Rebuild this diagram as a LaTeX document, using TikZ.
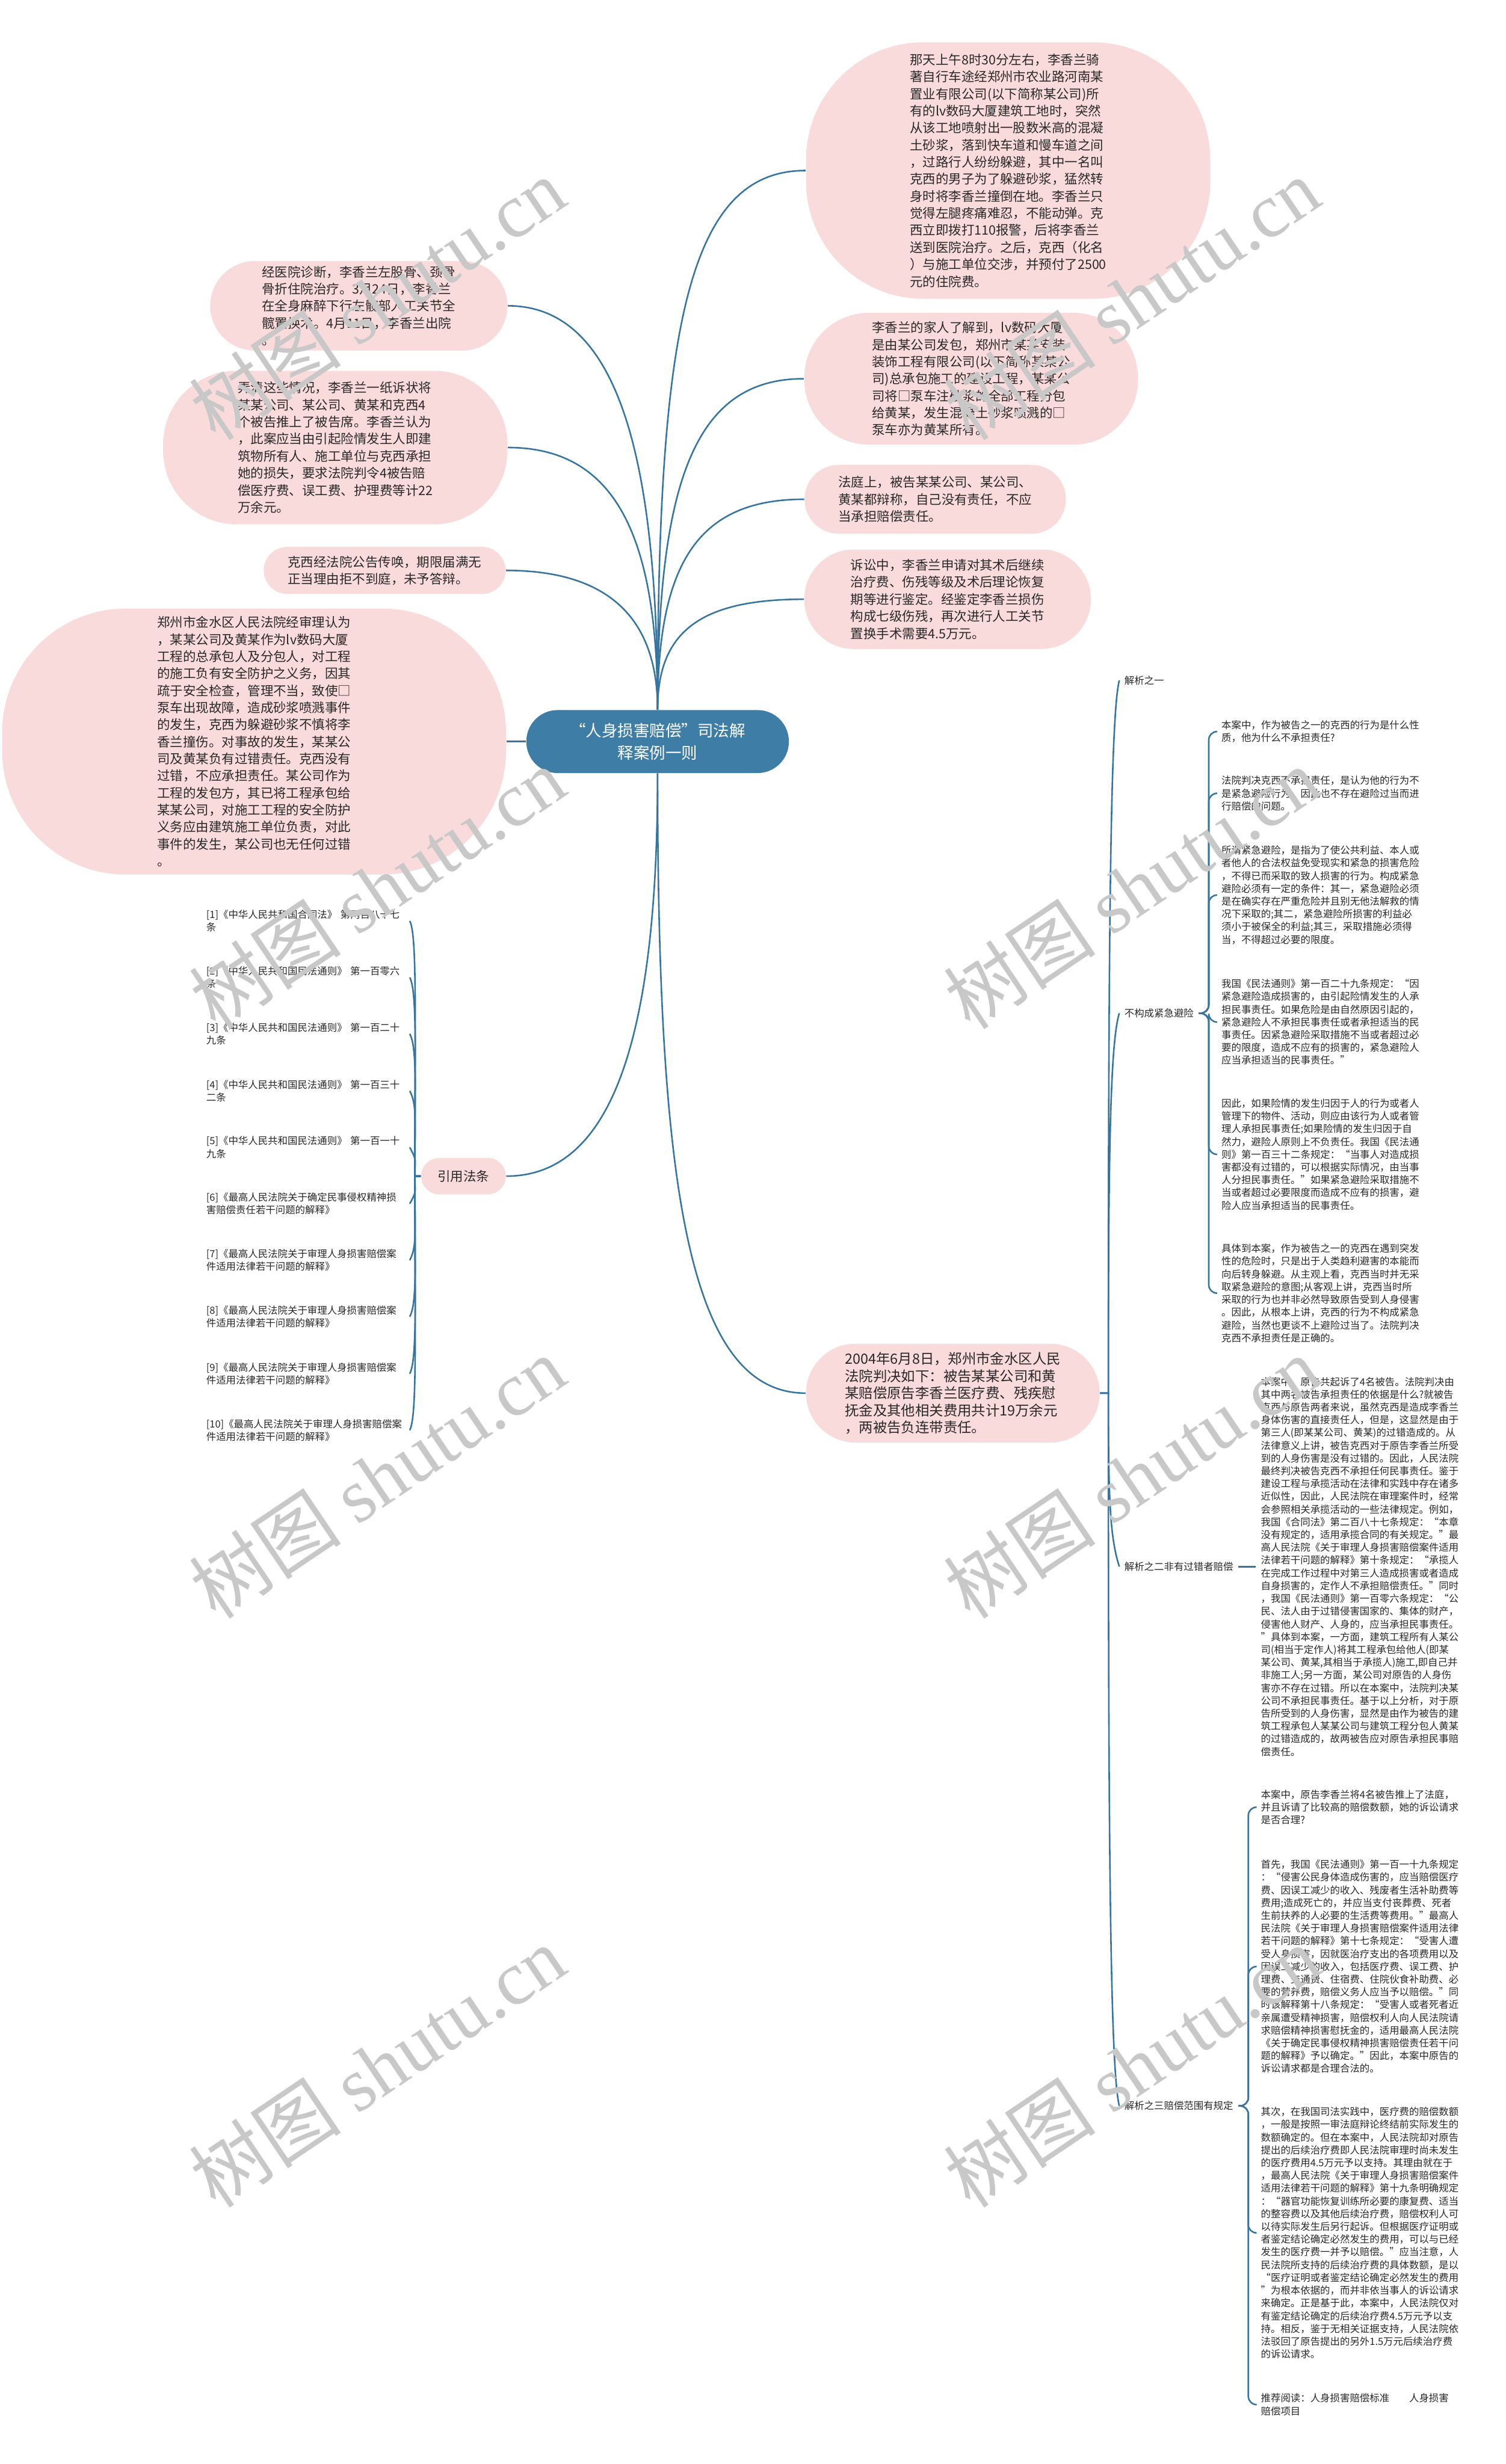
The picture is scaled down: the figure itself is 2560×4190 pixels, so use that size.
\documentclass[tikz,border=0pt]{standalone}
\usepackage{fontspec}
\setmainfont{Noto Sans CJK SC}
\newfontfamily\wmserif{Liberation Serif}
\definecolor{pinkbub}{RGB}{250,219,219}
\definecolor{rootblue}{RGB}{62,125,165}
\definecolor{linkblue}{RGB}{54,117,160}
\definecolor{inkgray}{RGB}{40,40,40}
\definecolor{wmgray}{RGB}{200,200,200}
\newcommand\bubfont{\fontsize{6.24pt}{8.25pt}\selectfont}
\newcommand\leaffont{\fontsize{4.78pt}{6.17pt}\selectfont}
\newcommand\rootfont{\fontsize{7.7pt}{10.8pt}\selectfont}
\newcommand\judgefont{\fontsize{6.8pt}{8.3pt}\selectfont}
\newcommand\wmfont{\fontsize{37pt}{40pt}\selectfont}

\begin{document}
\begin{tikzpicture}[x=0.01cm,y=-0.01cm,
  link/.style={draw=linkblue,line width=0.75pt},
  bracket/.style={link,rounded corners=4pt},
  bubble/.style={fill=pinkbub,text=inkgray,align=left,inner sep=0pt,font=\bubfont},
  leaf/.style={anchor=west,text=inkgray,align=left,inner xsep=0.08cm,inner ysep=0pt,font=\leaffont},
  wmark/.style={text=wmgray,rotate=34,font=\wmfont}]
\fill[white] (0,0) rectangle (2560,4190);
\useasboundingbox (0,0) rectangle (2560,4190);

\node[fill=rootblue,text=white,align=center,inner sep=0pt,font=\rootfont,minimum width=4.46cm,minimum height=1.07cm,rounded corners=0.53cm] (root) at (1118,1261) {“人身损害赔偿”司法解\\释案例一则};

\node[bubble,minimum width=6.87cm,minimum height=4.36cm,rounded corners=2cm] (fact) at (1714,290) {那天上午8时30分左右，李香兰骑\\著自行车途经郑州市农业路河南某\\置业有限公司(以下简称某公司)所\\有的lv数码大厦建筑工地时，突然\\从该工地喷射出一股数米高的混凝\\土砂浆，落到快车道和慢车道之间\\，过路行人纷纷躲避，其中一名叫\\克西的男子为了躲避砂浆，猛然转\\身时将李香兰撞倒在地。李香兰只\\觉得左腿疼痛难忍，不能动弹。克\\西立即拨打110报警，后将李香兰\\送到医院治疗。之后，克西（化名\\）与施工单位交涉，并预付了2500\\元的住院费。};
\node[bubble,minimum width=5.67cm,minimum height=2.24cm,rounded corners=1.1cm] (family) at (1651,644) {李香兰的家人了解到，lv数码大厦\\是由某公司发包，郑州市某某安装\\装饰工程有限公司(以下简称某某公\\司)总承包施工的建设工程，某某公\\司将□泵车注砂浆的全部工程分包\\给黄某，发生混凝土砂浆喷溅的□\\泵车亦为黄某所有。};
\node[bubble,minimum width=4.44cm,minimum height=1.17cm,rounded corners=0.58cm] (court) at (1590,849) {法庭上，被告某某公司、某公司、\\黄某都辩称，自己没有责任，不应\\当承担赔偿责任。};
\node[bubble,minimum width=4.87cm,minimum height=1.69cm,rounded corners=0.84cm] (appraisal) at (1611,1019) {诉讼中，李香兰申请对其术后继续\\治疗费、伤残等级及术后理论恢复\\期等进行鉴定。经鉴定李香兰损伤\\构成七级伤残，再次进行人工关节\\置换手术需要4.5万元。};

\node[bubble,minimum width=5.05cm,minimum height=1.52cm,rounded corners=0.76cm] (diagnosis) at (610,520) {经医院诊断，李香兰左股骨、颈骨\\骨折住院治疗。3月24日，李香兰\\在全身麻醉下行左髋部人工关节全\\髋置换术。4月11日，李香兰出院\\。};
\node[bubble,minimum width=5.85cm,minimum height=2.61cm,rounded corners=1.25cm] (lawsuit) at (570,761) {弄清这些情况，李香兰一纸诉状将\\某某公司、某公司、黄某和克西4\\个被告推上了被告席。李香兰认为\\，此案应当由引起险情发生人即建\\筑物所有人、施工单位与克西承担\\她的损失，要求法院判令4被告赔\\偿医疗费、误工费、护理费等计22\\万余元。};
\node[bubble,minimum width=4.11cm,minimum height=0.8cm,rounded corners=0.4cm] (absent) at (654,970) {克西经法院公告传唤，期限届满无\\正当理由拒不到庭，未予答辩。};
\node[bubble,minimum width=8.56cm,minimum height=4.52cm,rounded corners=2.1cm] (verdict) at (432,1261) {郑州市金水区人民法院经审理认为\\，某某公司及黄某作为lv数码大厦\\工程的总承包人及分包人，对工程\\的施工负有安全防护之义务，因其\\疏于安全检查，管理不当，致使□\\泵车出现故障，造成砂浆喷溅事件\\的发生，克西为躲避砂浆不慎将李\\香兰撞伤。对事故的发生，某某公\\司及黄某负有过错责任。克西没有\\过错，不应承担责任。某公司作为\\工程的发包方，其已将工程承包给\\某某公司，对施工工程的安全防护\\义务应由建筑施工单位负责，对此\\事件的发生，某公司也无任何过错\\。};

\node[bubble,align=center,minimum width=1.44cm,minimum height=0.62cm,rounded corners=0.31cm] (cite) at (788,2000) {引用法条};
\node[bubble,font=\judgefont,minimum width=4.99cm,minimum height=1.68cm,rounded corners=0.84cm] (judgment) at (1620,2369) {2004年6月8日，郑州市金水区人民\\法院判决如下：被告某某公司和黄\\某赔偿原告李香兰医疗费、残疾慰\\抚金及其他相关费用共计19万余元\\，两被告负连带责任。};

\draw[link] (root.north) .. controls +(0,-650) and +(-200,0) .. (fact.west);
\draw[link] (root.north) .. controls +(0,-400) and +(-180,0) .. (family.west);
\draw[link] (root.north) .. controls +(0,-250) and +(-180,0) .. (court.west);
\draw[link] (root.north) .. controls +(0,-130) and +(-180,0) .. (appraisal.west);
\draw[link] (root.north) .. controls +(0,-450) and +(180,0) .. (diagnosis.east);
\draw[link] (root.north) .. controls +(0,-300) and +(180,0) .. (lawsuit.east);
\draw[link] (root.north) .. controls +(0,-150) and +(180,0) .. (absent.east);
\draw[link] (root.west) -- (verdict.east);
\draw[link] (root.south) .. controls +(0,450) and +(180,0) .. (cite.east);
\draw[link] (root.south) .. controls +(0,700) and +(-200,0) .. (judgment.west);

\node[leaf,text width=3.37cm] (ref1) at (342,1566) {[1]《中华人民共和国合同法》 第两百八十七\\条};
\node[leaf,text width=3.37cm] (ref2) at (342,1662) {[2]《中华人民共和国民法通则》 第一百零六\\条};
\node[leaf,text width=3.37cm] (ref3) at (342,1758) {[3]《中华人民共和国民法通则》 第一百二十\\九条};
\node[leaf,text width=3.37cm] (ref4) at (342,1855) {[4]《中华人民共和国民法通则》 第一百三十\\二条};
\node[leaf,text width=3.37cm] (ref5) at (342,1951) {[5]《中华人民共和国民法通则》 第一百一十\\九条};
\node[leaf,text width=3.37cm] (ref6) at (342,2047) {[6]《最高人民法院关于确定民事侵权精神损\\害赔偿责任若干问题的解释》};
\node[leaf,text width=3.37cm] (ref7) at (342,2143) {[7]《最高人民法院关于审理人身损害赔偿案\\件适用法律若干问题的解释》};
\node[leaf,text width=3.37cm] (ref8) at (342,2239) {[8]《最高人民法院关于审理人身损害赔偿案\\件适用法律若干问题的解释》};
\node[leaf,text width=3.37cm] (ref9) at (342,2336) {[9]《最高人民法院关于审理人身损害赔偿案\\件适用法律若干问题的解释》};
\node[leaf,text width=3.37cm] (ref10) at (342,2432) {[10]《最高人民法院关于审理人身损害赔偿案\\件适用法律若干问题的解释》};
\foreach \i in {1,...,10}{
  \pgfmathsetmacro\dy{1566+96.2*(\i-1)-2000}
  \pgfmathsetmacro\cy{0.6*\dy}
  \pgfmathsetmacro\hk{\dy<0 ? 24 : -24}
  \draw[link] (cite.west) -- ++(-10,0) .. controls +(0,\cy) and +(13,\hk) .. (ref\i.east);
}

\node[leaf] (ana1) at (1903,1157) {解析之一};
\node[leaf] (noavoid) at (1903,1723) {不构成紧急避险};
\node[leaf] (ana2) at (1903,2664) {解析之二非有过错者赔偿};
\node[leaf] (ana3) at (1903,3581) {解析之三赔偿范围有规定};
\draw[link] (judgment.east) -- ++(14,0) .. controls +(0,-730) and +(-16,60) .. (ana1.west);
\draw[link] (judgment.east) -- ++(14,0) .. controls +(0,-390) and +(-16,50) .. (noavoid.west);
\draw[link] (judgment.east) -- ++(14,0) .. controls +(0,180) and +(-16,-50) .. (ana2.west);
\draw[link] (judgment.east) -- ++(14,0) .. controls +(0,730) and +(-16,-60) .. (ana3.west);

\node[leaf] (av1) at (2068,1244) {本案中，作为被告之一的克西的行为是什么性\\质，他为什么不承担责任?};
\node[leaf] (av2) at (2068,1349) {法院判决克西不承担责任，是认为他的行为不\\是紧急避险行为，因此也不存在避险过当而进\\行赔偿的问题。};
\node[leaf] (av3) at (2068,1522) {所谓紧急避险，是指为了使公共利益、本人或\\者他人的合法权益免受现实和紧急的损害危险\\，不得已而采取的致人损害的行为。构成紧急\\避险必须有一定的条件：其一，紧急避险必须\\是在确实存在严重危险并且别无他法解救的情\\况下采取的;其二，紧急避险所损害的利益必\\须小于被保全的利益;其三，采取措施必须得\\当，不得超过必要的限度。};
\node[leaf] (av4) at (2068,1738) {我国《民法通则》第一百二十九条规定：“因\\紧急避险造成损害的，由引起险情发生的人承\\担民事责任。如果危险是由自然原因引起的，\\紧急避险人不承担民事责任或者承担适当的民\\事责任。因紧急避险采取措施不当或者超过必\\要的限度，造成不应有的损害的，紧急避险人\\应当承担适当的民事责任。”};
\node[leaf] (av5) at (2068,1963) {因此，如果险情的发生归因于人的行为或者人\\管理下的物件、活动，则应由该行为人或者管\\理人承担民事责任;如果险情的发生归因于自\\然力，避险人原则上不负责任。我国《民法通\\则》第一百三十二条规定：“当事人对造成损\\害都没有过错的，可以根据实际情况，由当事\\人分担民事责任。”如果紧急避险采取措施不\\当或者超过必要限度而造成不应有的损害，避\\险人应当承担适当的民事责任。};
\node[leaf] (av6) at (2068,2199) {具体到本案，作为被告之一的克西在遇到突发\\性的危险时，只是出于人类趋利避害的本能而\\向后转身躲避。从主观上看，克西当时并无采\\取紧急避险的意图;从客观上讲，克西当时所\\采取的行为也并非必然导致原告受到人身侵害\\。因此，从根本上讲，克西的行为不构成紧急\\避险，当然也更谈不上避险过当了。法院判决\\克西不承担责任是正确的。};
\foreach \i in {1,...,6}{
  \draw[bracket] (noavoid.east) -- ++(17,0) |- (av\i.west);
}

\node[leaf] (fault1) at (2135,2664) {本案中，原告共起诉了4名被告。法院判决由\\其中两名被告承担责任的依据是什么?就被告\\克西与原告两者来说，虽然克西是造成李香兰\\身体伤害的直接责任人，但是，这显然是由于\\第三人(即某某公司、黄某)的过错造成的。从\\法律意义上讲，被告克西对于原告李香兰所受\\到的人身伤害是没有过错的。因此，人民法院\\最终判决被告克西不承担任何民事责任。鉴于\\建设工程与承揽活动在法律和实践中存在诸多\\近似性，因此，人民法院在审理案件时，经常\\会参照相关承揽活动的一些法律规定。例如，\\我国《合同法》第二百八十七条规定：“本章\\没有规定的，适用承揽合同的有关规定。”最\\高人民法院《关于审理人身损害赔偿案件适用\\法律若干问题的解释》第十条规定：“承揽人\\在完成工作过程中对第三人造成损害或者造成\\自身损害的，定作人不承担赔偿责任。”同时\\，我国《民法通则》第一百零六条规定：“公\\民、法人由于过错侵害国家的、集体的财产，\\侵害他人财产、人身的，应当承担民事责任。\\”具体到本案，一方面，建筑工程所有人某公\\司(相当于定作人)将其工程承包给他人(即某\\某公司、黄某,其相当于承揽人)施工,即自己并\\非施工人;另一方面，某公司对原告的人身伤\\害亦不存在过错。所以在本案中，法院判决某\\公司不承担民事责任。基于以上分析，对于原\\告所受到的人身伤害，显然是由作为被告的建\\筑工程承包人某某公司与建筑工程分包人黄某\\的过错造成的，故两被告应对原告承担民事赔\\偿责任。};
\draw[link] (ana2.east) -- (fault1.west);

\node[leaf] (scope1) at (2135,3073) {本案中，原告李香兰将4名被告推上了法庭，\\并且诉请了比较高的赔偿数额，她的诉讼请求\\是否合理?};
\node[leaf] (scope2) at (2135,3344) {首先，我国《民法通则》第一百一十九条规定\\：“侵害公民身体造成伤害的，应当赔偿医疗\\费、因误工减少的收入、残废者生活补助费等\\费用;造成死亡的，并应当支付丧葬费、死者\\生前扶养的人必要的生活费等费用。”最高人\\民法院《关于审理人身损害赔偿案件适用法律\\若干问题的解释》第十七条规定：“受害人遭\\受人身损害，因就医治疗支出的各项费用以及\\因误工减少的收入，包括医疗费、误工费、护\\理费、交通费、住宿费、住院伙食补助费、必\\要的营养费，赔偿义务人应当予以赔偿。”同\\时该解释第十八条规定：“受害人或者死者近\\亲属遭受精神损害，赔偿权利人向人民法院请\\求赔偿精神损害慰抚金的，适用最高人民法院\\《关于确定民事侵权精神损害赔偿责任若干问\\题的解释》予以确定。”因此，本案中原告的\\诉讼请求都是合理合法的。};
\node[leaf] (scope3) at (2135,3797) {其次，在我国司法实践中，医疗费的赔偿数额\\，一般是按照一审法庭辩论终结前实际发生的\\数额确定的。但在本案中，人民法院却对原告\\提出的后续治疗费即人民法院审理时尚未发生\\的医疗费用4.5万元予以支持。其理由就在于\\，最高人民法院《关于审理人身损害赔偿案件\\适用法律若干问题的解释》第十九条明确规定\\：“器官功能恢复训练所必要的康复费、适当\\的整容费以及其他后续治疗费，赔偿权利人可\\以待实际发生后另行起诉。但根据医疗证明或\\者鉴定结论确定必然发生的费用，可以与已经\\发生的医疗费一并予以赔偿。”应当注意，人\\民法院所支持的后续治疗费的具体数额，是以\\“医疗证明或者鉴定结论确定必然发生的费用\\”为根本依据的，而并非依当事人的诉讼请求\\来确定。正是基于此，本案中，人民法院仅对\\有鉴定结论确定的后续治疗费4.5万元予以支\\持。相反，鉴于无相关证据支持，人民法院依\\法驳回了原告提出的另外1.5万元后续治疗费\\的诉讼请求。};
\node[leaf] (scope4) at (2135,4089) {推荐阅读：人身损害赔偿标准\quad\quad 人身损害\\赔偿项目};
\foreach \i in {1,...,4}{
  \draw[bracket] (ana3.east) -- ++(17,0) |- (scope\i.west);
}

\node[wmark] (wm1) at (641,508) {树图 {\wmserif shutu.cn}};
\node[wmark] (wm2) at (1924,508) {树图 {\wmserif shutu.cn}};
\node[wmark] (wm3) at (641,1510) {树图 {\wmserif shutu.cn}};
\node[wmark] (wm4) at (1924,1510) {树图 {\wmserif shutu.cn}};
\node[wmark] (wm5) at (641,2512) {树图 {\wmserif shutu.cn}};
\node[wmark] (wm6) at (1924,2512) {树图 {\wmserif shutu.cn}};
\node[wmark] (wm7) at (641,3514) {树图 {\wmserif shutu.cn}};
\node[wmark] (wm8) at (1924,3514) {树图 {\wmserif shutu.cn}};
\end{tikzpicture}
\end{document}
